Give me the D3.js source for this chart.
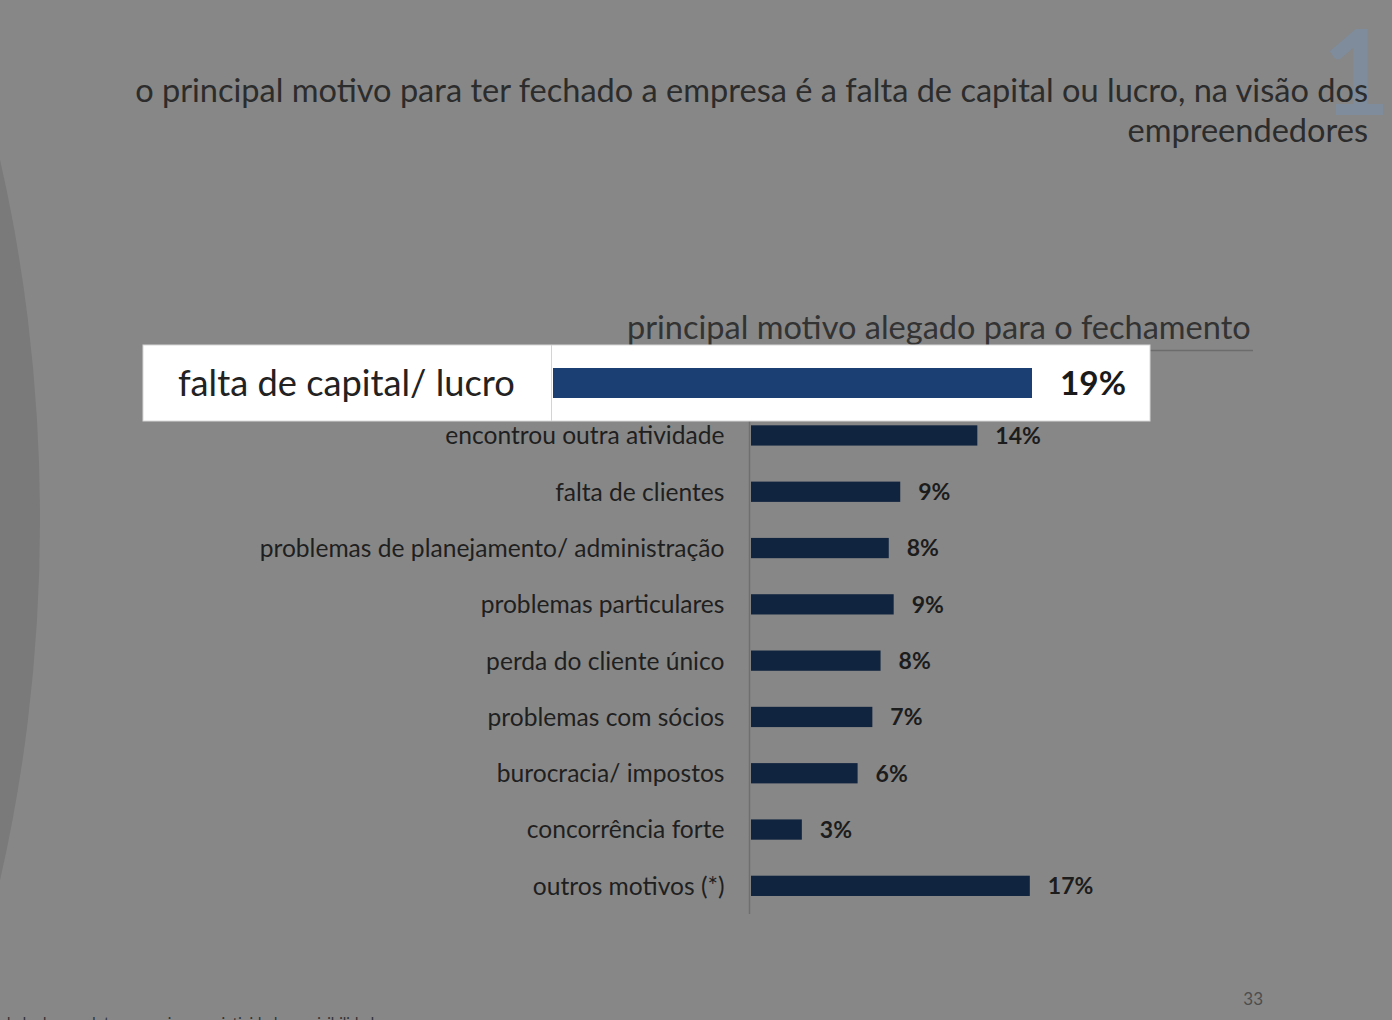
<!DOCTYPE html>
<html>
<head>
<meta charset="utf-8">
<script src="https://cdn.jsdelivr.net/npm/d3@7"></script>
<style>
  body { margin: 0; background: #878787; }
  svg { display: block; }
</style>
</head>
<body>
<div id="chart"></div>
<script>
// data
var categories = [
    "falta de capital/ lucro",
    "encontrou outra atividade",
    "falta de clientes",
    "problemas de planejamento/ administração",
    "problemas particulares",
    "perda do cliente único",
    "problemas com sócios",
    "burocracia/ impostos",
    "concorrência forte",
    "outros motivos (*)"
];
var values = [19.0, 13.8, 9.1, 8.4, 8.7, 7.9, 7.4, 6.5, 3.1, 17.0];
var valueLabels = ["19%", "14%", "9%", "8%", "9%", "8%", "7%", "6%", "3%", "17%"];

var titleLines = [
    "o principal motivo para ter fechado a empresa é a falta de capital ou lucro, na visão dos",
    "empreendedores"
];
var subtitle = "principal motivo alegado para o fechamento";
var pageNumber = "33";
var footText = "dade dos produtos e serviços e criatividade ou visibilidade";

var W = 1392, H = 1020;
var FONT = "Lato, 'Open Sans', sans-serif";

// scale font-size so the text spans the given width
function fitWidth(sel, target) {
    var w = sel.node().getComputedTextLength();
    var fs = parseFloat(sel.attr("font-size"));
    sel.attr("font-size", fs * target / w);
}

var svg = d3.select("#chart")
    .append("svg")
    .attr("width", W)
    .attr("height", H)
    .style("font-family", FONT);

svg.append("rect")
    .attr("width", W)
    .attr("height", H)
    .attr("fill", "#878787");

// darker round shape on the left edge of the slide
svg.append("ellipse")
    .attr("cx", -600)
    .attr("cy", 520)
    .attr("rx", 640)
    .attr("ry", 1035)
    .attr("fill", "#7a7a7a");

// faded section number
svg.append("text")
    .attr("x", 1322)
    .attr("y", 115)
    .attr("font-size", 118)
    .attr("font-weight", "bold")
    .attr("fill", "#7b8da3")
    .attr("fill-opacity", 0.75)
    .text("1");

// title, right aligned
var t1 = svg.append("text")
    .attr("x", 1368)
    .attr("y", 102)
    .attr("text-anchor", "end")
    .attr("font-size", 30)
    .attr("fill", "#2c2c2c")
    .text(titleLines[0]);
fitWidth(t1, 1233);
svg.append("text")
    .attr("x", 1368)
    .attr("y", 142)
    .attr("text-anchor", "end")
    .attr("font-size", t1.attr("font-size"))
    .attr("fill", "#2c2c2c")
    .text(titleLines[1]);

// chart subtitle with its underline
var st = svg.append("text")
    .attr("x", 627)
    .attr("y", 339)
    .attr("font-size", 30)
    .attr("fill", "#333")
    .text(subtitle);
fitWidth(st, 624);
svg.append("line")
    .attr("x1", 627).attr("x2", 1253)
    .attr("y1", 350.5).attr("y2", 350.5)
    .attr("stroke", "#6c6c6c")
    .attr("stroke-width", 1.5);

// main bar chart
var x = d3.scaleLinear()
    .domain([0, 20])
    .range([751, 1079]);

var y = d3.scaleBand()
    .domain(categories)
    .range([351, 914])
    .paddingInner(0.64)
    .paddingOuter(0.32);

var g = svg.append("g").attr("class", "bars");

var yAxis = g.append("g")
    .attr("class", "axis")
    .attr("transform", "translate(749.5,0)")
    .call(d3.axisLeft(y).tickSize(0).tickPadding(25));
yAxis.select(".domain")
    .attr("stroke", "#6f6f6f")
    .attr("stroke-width", 1.5)
    .attr("d", "M0," + y.range()[0] + "V" + y.range()[1]);
// first row is shown magnified in the call-out instead
yAxis.selectAll(".tick").filter(function(d) { return d === categories[0]; }).remove();
yAxis.selectAll("text")
    .attr("font-family", FONT)
    .attr("font-size", 22)
    .attr("fill", "#1f1f1f")
    .attr("dy", "0.36em");
var longest = yAxis.selectAll("text").filter(function(d) {
    return d === "problemas de planejamento/ administração";
});
fitWidth(longest, 465);
yAxis.selectAll("text").attr("font-size", longest.attr("font-size"));

g.selectAll(".bar")
    .data(categories)
    .enter().append("rect")
    .attr("class", "bar")
    .attr("x", x(0))
    .attr("y", function(d) { return y(d); })
    .attr("width", function(d, i) { return x(values[i]) - x(0); })
    .attr("height", y.bandwidth())
    .attr("fill", "#11243f");

g.selectAll(".val")
    .data(categories.slice(1))
    .enter().append("text")
    .attr("class", "val")
    .attr("x", function(d, i) { return x(values[i + 1]) + 18; })
    .attr("y", function(d) { return y(d) + y.bandwidth() / 2; })
    .attr("dy", "0.36em")
    .attr("font-size", 23)
    .attr("font-weight", "bold")
    .attr("fill", "#1c1c1c")
    .text(function(d, i) { return valueLabels[i + 1]; });

// magnified call-out of the first row
var box = svg.append("g").attr("class", "callout");
box.append("rect")
    .attr("x", 143)
    .attr("y", 345)
    .attr("width", 1007)
    .attr("height", 76)
    .attr("fill", "#ffffff")
    .attr("stroke", "#d8d8d8")
    .attr("stroke-width", 1);
box.append("line")
    .attr("x1", 551.5).attr("x2", 551.5)
    .attr("y1", 345).attr("y2", 421)
    .attr("stroke", "#d4d4d4");

var xBig = d3.scaleLinear()
    .domain([0, 19])
    .range([553, 1032]);

box.append("rect")
    .attr("x", xBig(0))
    .attr("y", 368)
    .attr("width", xBig(values[0]) - xBig(0))
    .attr("height", 30)
    .attr("fill", "#1b3f73");

var bl = box.append("text")
    .attr("x", 178)
    .attr("y", 383)
    .attr("dy", "0.36em")
    .attr("font-size", 34)
    .attr("fill", "#222")
    .text(categories[0]);
fitWidth(bl, 337);

var bv = box.append("text")
    .attr("x", xBig(values[0]) + 28)
    .attr("y", 383)
    .attr("dy", "0.36em")
    .attr("font-size", 34)
    .attr("font-weight", "bold")
    .attr("fill", "#1a1a1a")
    .text(valueLabels[0]);
fitWidth(bv, 66);

// page number and cut-off footnote
svg.append("text")
    .attr("x", 1263)
    .attr("y", 1005)
    .attr("text-anchor", "end")
    .attr("font-size", 17)
    .attr("fill", "#4d4d4d")
    .text(pageNumber);

svg.append("text")
    .attr("x", 2)
    .attr("y", 1028)
    .attr("font-size", 15)
    .attr("fill", "#333")
    .text(footText);
</script>
</body>
</html>
